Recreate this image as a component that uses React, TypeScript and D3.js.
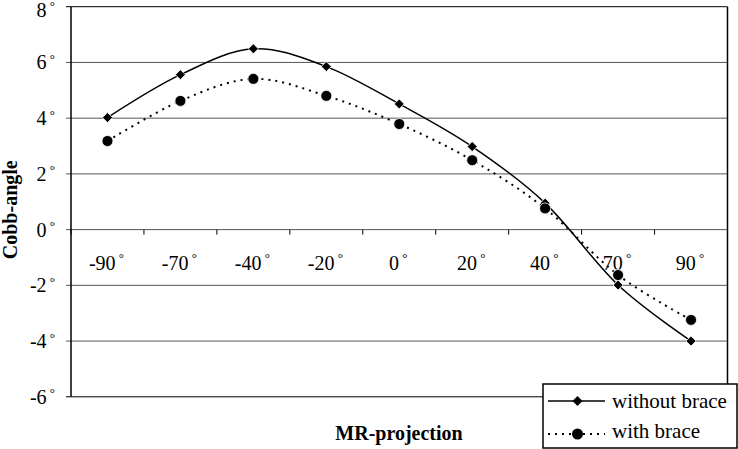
import React from "react";
import * as d3 from "d3";

const categories = ["-90", "-70", "-40", "-20", "0", "20", "40", "70", "90"];
const withoutBrace = [4.02, 5.56, 6.49, 5.85, 4.51, 2.98, 0.95, -1.99, -4.0];
const withBrace = [3.18, 4.62, 5.41, 4.8, 3.79, 2.49, 0.76, -1.63, -3.24];
const yTicks = [-6, -4, -2, 0, 2, 4, 6, 8];

const W = 738, H = 449;
const left = 71, right = 727.5, top = 6.7, bottom = 396.8;
const FONT = "Liberation Serif";

export default function App() {
  const x = d3.scaleBand<string>().domain(categories).range([left, right]);
  const y = d3.scaleLinear().domain([-6, 8]).range([bottom, top]);
  const cx = (c: string) => (x(c) as number) + x.bandwidth() / 2;
  const line = d3.line<number>()
    .x((_, i) => cx(categories[i]))
    .y((d) => y(d))
    .curve(d3.curveCatmullRom.alpha(0));
  const diamond = (px: number, py: number, r: number) =>
    `M${px},${py - r}L${px + r},${py}L${px},${py + r}L${px - r},${py}Z`;
  const boundaries = categories.map((_, i) => left + i * x.bandwidth()).concat([right]);

  return (
    <svg width={W} height={H} style={{ position: "absolute", left: 0, top: 0, background: "#fff" }}>
      <rect x={0} y={0} width={W} height={H} fill="#fff" />
      {yTicks.map((t) => (
        <g key={t}>
          <line x1={left - 5} x2={right} y1={y(t)} y2={y(t)} stroke={t === 8 || t === -6 ? "#000" : "#555"} strokeWidth={1} />
          <text x={55} y={y(t) + (t === 8 ? 3 : 0)} dy="0.35em" textAnchor="end" fontFamily={FONT} fontSize={20} fill="#000">
            {t}<tspan fontSize={13} dy="-0.5em">{" °"}</tspan>
          </text>
        </g>
      ))}
      <line x1={left} x2={left} y1={top} y2={bottom} stroke="#000" strokeWidth={1.5} />
      <line x1={right} x2={right} y1={top} y2={bottom} stroke="#000" strokeWidth={1.5} />
      {boundaries.map((b, i) => (
        <line key={i} x1={b} x2={b} y1={y(0)} y2={y(0) + 5} stroke="#000" strokeWidth={1} />
      ))}
      {categories.map((c) => (
        <text key={c} x={cx(c) - 1} y={y(0) + 33} dy="0.35em" textAnchor="middle" fontFamily={FONT} fontSize={20} fill="#000">
          {c}<tspan fontSize={13} dy="-0.55em">{" °"}</tspan>
        </text>
      ))}
      <path d={line(withoutBrace) || ""} fill="none" stroke="#000" strokeWidth={1.5} />
      <path d={line(withBrace) || ""} fill="none" stroke="#000" strokeWidth={2} strokeDasharray="2,5" />
      {withoutBrace.map((v, i) => (
        <path key={i} d={diamond(cx(categories[i]), y(v), 5)} fill="#000" stroke="#fff" strokeWidth={0.8} />
      ))}
      {withBrace.map((v, i) => (
        <circle key={i} cx={cx(categories[i])} cy={y(v)} r={5.5} fill="#000" stroke="#fff" strokeWidth={0.8} />
      ))}
      <text transform={`translate(17,${(top + bottom) / 2 + 8}) rotate(-90)`} textAnchor="middle" fontFamily={FONT} fontWeight="bold" fontSize={20} fill="#000">
        Cobb-angle
      </text>
      <text x={399} y={433} dy="0.35em" textAnchor="middle" fontFamily={FONT} fontWeight="bold" fontSize={20} fill="#000">
        MR-projection
      </text>
      <g>
        <rect x={543} y={384} width={194} height={64} fill="#fff" stroke="#000" strokeWidth={1.5} />
        <line x1={548} x2={605} y1={401} y2={401} stroke="#000" strokeWidth={1.5} />
        <path d={diamond(577.5, 401, 5)} fill="#000" />
        <text x={612} y={408.3} fontFamily={FONT} fontSize={21} fill="#000">without brace</text>
        <line x1={548} x2={605} y1={434} y2={434} stroke="#000" strokeWidth={2} strokeDasharray="2,5" />
        <circle cx={577.5} cy={434} r={5.5} fill="#000" />
        <text x={612} y={438.3} fontFamily={FONT} fontSize={21} fill="#000">with brace</text>
      </g>
    </svg>
  );
}
